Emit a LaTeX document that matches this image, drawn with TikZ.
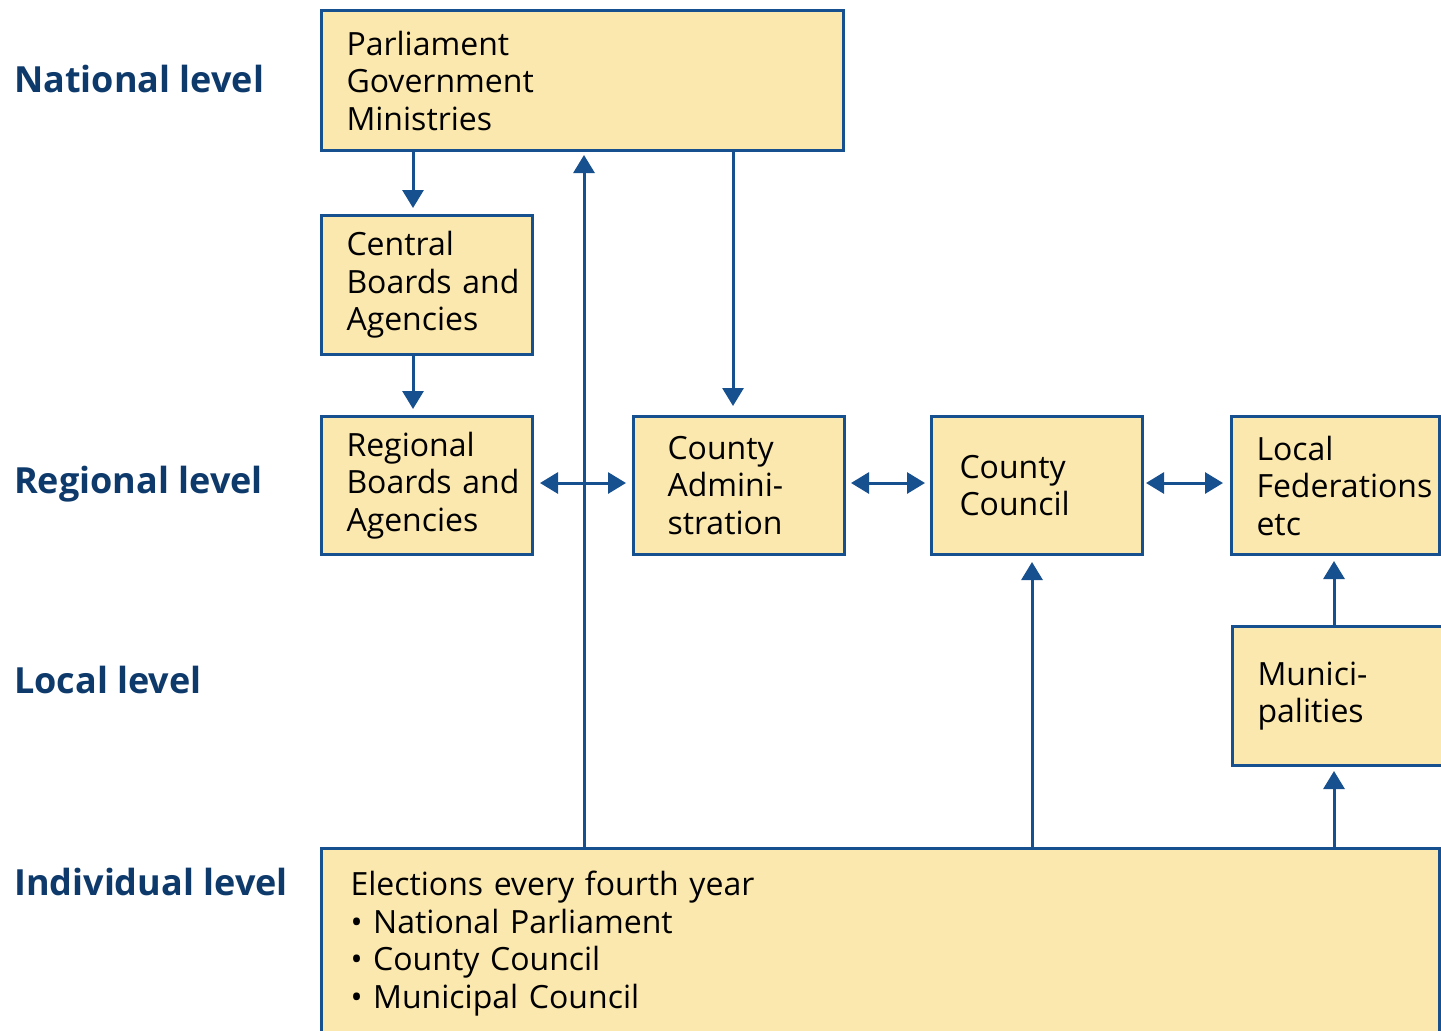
\documentclass[tikz,border=0pt]{standalone}
\usepackage{fontspec}
\setmainfont{Open Sans}
\usetikzlibrary{arrows.meta}
\definecolor{boxfill}{HTML}{FBE8AE}
\definecolor{boxline}{HTML}{17508F}
\definecolor{lvltext}{HTML}{0E3A6B}
\tikzset{
  box/.style={draw=boxline, line width=3pt, fill=boxfill, anchor=north west,
    align=left, inner ysep=0pt, font=\fontsize{32}{37.5}\selectfont, text=black},
  lvl/.style={anchor=west, inner sep=0pt, text=lvltext, font=\fontsize{36}{40}\selectfont\bfseries},
  arr/.style={draw=boxline, line width=3pt, -{Triangle[length=18pt,width=21pt]}},
  darr/.style={draw=boxline, line width=3pt, {Triangle[length=18pt,width=21pt]}-{Triangle[length=18pt,width=21pt]}},
}
\begin{document}
\begin{tikzpicture}[x=1pt,y=-1pt]
\useasboundingbox (0,0) rectangle (1441,1031);
% boxes
\node[box, inner xsep=25pt, text width=472pt, minimum height=140pt] (parl) at (320,9) {Parliament\\Government\\Ministries};
\node[box, inner xsep=25pt, text width=161pt, minimum height=139pt] (central) at (320,214) {Central\\\mbox{Boards and}\\Agencies};
\node[box, inner xsep=25pt, text width=161pt, minimum height=138pt] (regional) at (320,415) {Regional\\\mbox{Boards and}\\Agencies};
\node[box, inner xsep=34pt, text width=143pt, minimum height=138pt] (admin) at (632,415) {County\\Admini-\\stration};
\node[box, inner xsep=28pt, text width=155pt, minimum height=138pt] (council) at (930,415) {County\\Council};
\node[box, inner xsep=25pt, text width=158pt, minimum height=138pt] (fed) at (1230,415) {Local\\\mbox{Federations}\\etc};
\node[box, inner xsep=25pt, text width=164pt, minimum height=139pt] (muni) at (1231,625) {Munici-\\palities};
\node[box, inner xsep=29pt, text width=1060pt, minimum height=190pt] (elec) at (320,847) {Elections every fourth year\\\textbullet\ National Parliament\\\textbullet\ County Council\\\textbullet\ Municipal Council};
% level labels
\node[lvl] (lnat) at (14,79) {National level};
\node[lvl] (lreg) at (14,484) {Regional level};
\node[lvl] (lloc) at (14,680) {Local level};
\node[lvl] (lind) at (14,882) {Individual level};
% helper coordinates
\coordinate (xa) at (413,0);
\coordinate (xb) at (584,0);
\coordinate (xc) at (733,0);
\coordinate (xd) at (1032,0);
\coordinate (xe) at (1334,0);
\coordinate (yh) at (0,483);
% connectors
\draw[arr, shorten >=6pt] (parl.south -| xa) -- (central.north -| xa);
\draw[arr, shorten >=6pt] (central.south -| xa) -- (regional.north -| xa);
\draw[arr, shorten >=9pt] (parl.south -| xc) -- (admin.north -| xc);
\draw[arr, shorten >=3pt] (elec.north -| xb) -- (parl.south -| xb);
\draw[arr, shorten >=6pt] (elec.north -| xd) -- (council.south -| xd);
\draw[arr, shorten >=5pt] (muni.north -| xe) -- (fed.south -| xe);
\draw[arr, shorten >=4pt] (elec.north -| xe) -- (muni.south -| xe);
\draw[darr, shorten <=6pt, shorten >=6pt] (regional.east |- yh) -- (admin.west |- yh);
\draw[darr, shorten <=5pt, shorten >=5pt] (admin.east |- yh) -- (council.west |- yh);
\draw[darr, shorten <=2pt, shorten >=7pt] (council.east |- yh) -- (fed.west |- yh);
\end{tikzpicture}
\end{document}
